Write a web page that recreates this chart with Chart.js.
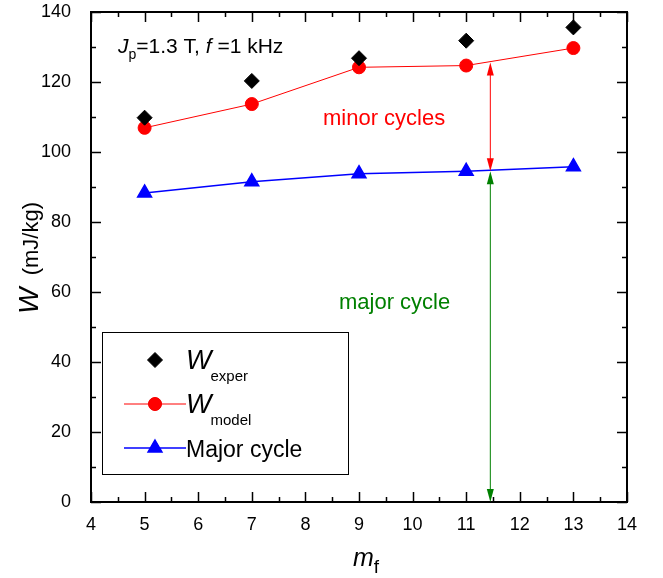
<!DOCTYPE html>
<html>
<head>
<meta charset="utf-8">
<script src="https://cdn.jsdelivr.net/npm/chart.js@4.4.0/dist/chart.umd.min.js"></script>
<style>
  html, body { margin: 0; padding: 0; background: #fff; }
  #wrap { width: 663px; height: 578px; }
</style>
</head>
<body>
<div id="wrap"><canvas id="chart" width="663" height="578"></canvas></div>
<script>
// data
const mf = [5, 7, 9, 11, 13];
const wExper = [109.8, 120.3, 126.8, 131.8, 135.6];
const wModel = [106.9, 113.7, 124.2, 124.7, 129.7];
const majorCycle = [88.3, 91.5, 93.8, 94.5, 95.8];

const xTicks = [4, 5, 6, 7, 8, 9, 10, 11, 12, 13, 14];
const yTicks = [0, 20, 40, 60, 80, 100, 120, 140];

// arrow annotations: x position, and the y spans
const arrowX = 11.45;
const minorSpan = [94.5, 125.6];
const majorSpan = [0, 94.5];

const FONT = "'Liberation Sans', Arial, Helvetica, sans-serif";

const toPoints = (ys) => mf.map((x, i) => ({ x: x, y: ys[i] }));

function arrowHead(ctx, x, y, dir, color) {
    // dir = -1 points up, 1 points down
    ctx.fillStyle = color;
    ctx.beginPath();
    ctx.moveTo(x, y);
    ctx.lineTo(x - 3.5, y - dir * 13);
    ctx.lineTo(x + 3.5, y - dir * 13);
    ctx.closePath();
    ctx.fill();
}

function drawArrow(ctx, x, yTop, yBot, color) {
    ctx.strokeStyle = color;
    ctx.lineWidth = 1;
    ctx.beginPath();
    ctx.moveTo(x, yTop + 6);
    ctx.lineTo(x, yBot - 6);
    ctx.stroke();
    arrowHead(ctx, x, yTop, -1, color);
    arrowHead(ctx, x, yBot, 1, color);
}

const framePlugin = {
    id: "frame",
    afterDraw(chart) {
        const ctx = chart.ctx;
        const a = chart.chartArea;
        const xs = chart.scales.x;
        const ys = chart.scales.y;
        ctx.save();

        // inward ticks on all four sides
        ctx.strokeStyle = "#000";
        ctx.lineWidth = 1.5;
        ctx.beginPath();
        for (let v = 4; v <= 14.001; v += 0.5) {
            const px = Math.round(xs.getPixelForValue(v)) + 0.5;
            const len = Number.isInteger(v) ? 10 : 5;
            ctx.moveTo(px, a.bottom); ctx.lineTo(px, a.bottom - len);
            ctx.moveTo(px, a.top); ctx.lineTo(px, a.top + len);
        }
        for (let v = 0; v <= 140; v += 10) {
            const py = Math.round(ys.getPixelForValue(v)) + 0.5;
            const len = v % 20 === 0 ? 10 : 5;
            ctx.moveTo(a.left, py); ctx.lineTo(a.left + len, py);
            ctx.moveTo(a.right, py); ctx.lineTo(a.right - len, py);
        }
        ctx.stroke();

        // frame
        ctx.lineWidth = 2;
        ctx.strokeRect(a.left, a.top, a.right - a.left, a.bottom - a.top);

        // arrows
        const ax = xs.getPixelForValue(arrowX);
        drawArrow(ctx, ax, ys.getPixelForValue(minorSpan[1]), ys.getPixelForValue(minorSpan[0]), "#ff0000");
        drawArrow(ctx, ax, ys.getPixelForValue(majorSpan[1]), ys.getPixelForValue(majorSpan[0]), "#008000");

        // text annotations
        ctx.textBaseline = "alphabetic";
        ctx.fillStyle = "#000";
        let tx = 118, ty = 53;
        ctx.font = "italic 21px " + FONT;
        ctx.fillText("J", tx, ty);
        tx += ctx.measureText("J").width;
        ctx.font = "14px " + FONT;
        ctx.fillText("p", tx, ty + 6);
        tx += ctx.measureText("p").width;
        ctx.font = "21px " + FONT;
        ctx.fillText("=1.3 T, ", tx, ty);
        tx += ctx.measureText("=1.3 T, ").width;
        ctx.font = "italic 21px " + FONT;
        ctx.fillText("f", tx, ty);
        tx += ctx.measureText("f ").width;
        ctx.font = "21px " + FONT;
        ctx.fillText("=1 kHz", tx, ty);

        ctx.font = "22px " + FONT;
        ctx.fillStyle = "#ff0000";
        ctx.fillText("minor cycles", 323, 125);
        ctx.fillStyle = "#008000";
        ctx.fillText("major cycle", 339, 309);

        // legend box
        ctx.fillStyle = "#fff";
        ctx.fillRect(102, 332, 246, 142);
        ctx.strokeStyle = "#000";
        ctx.lineWidth = 1;
        ctx.strokeRect(102.5, 332.5, 246, 142);

        const sets = chart.data.datasets;
        const rows = [
            { y: 360, sub: "exper", main: "W", ds: sets[0] },
            { y: 404, sub: "model", main: "W", ds: sets[1] },
            { y: 448, sub: null, main: "Major cycle", ds: sets[2] }
        ];
        rows.forEach(r => {
            if (r.ds.showLine !== false) {
                ctx.strokeStyle = r.ds.borderColor;
                ctx.lineWidth = r.ds.borderWidth;
                ctx.beginPath();
                ctx.moveTo(124, r.y); ctx.lineTo(186, r.y);
                ctx.stroke();
            }
            Chart.helpers.drawPoint(ctx, {
                pointStyle: r.ds.pointStyle,
                radius: r.ds.pointRadius,
                rotation: 0,
                borderWidth: 1
            }, 155, r.y);
            ctx.fillStyle = r.ds.pointBackgroundColor;
            ctx.fill();
            ctx.fillStyle = "#000";
            if (r.sub) {
                ctx.font = "italic 27px " + FONT;
                ctx.fillText(r.main, 186, r.y + 9);
                const w = ctx.measureText(r.main).width;
                ctx.font = "15px " + FONT;
                ctx.fillText(r.sub, 186 + w - 1, r.y + 21);
            } else {
                ctx.font = "23px " + FONT;
                ctx.fillText(r.main, 186, r.y + 9);
            }
        });

        // axis titles
        ctx.fillStyle = "#000";
        ctx.font = "italic 25px " + FONT;
        const mw = ctx.measureText("m").width;
        ctx.fillText("m", 353, 566);
        ctx.font = "19px " + FONT;
        ctx.fillText("f", 353 + mw, 573);

        ctx.translate(38, 258);
        ctx.rotate(-Math.PI / 2);
        ctx.font = "italic 28px " + FONT;
        const wW = ctx.measureText("W").width;
        ctx.font = "22px " + FONT;
        const restW = ctx.measureText("  (mJ/kg)").width;
        const start = -(wW + restW) / 2;
        ctx.font = "italic 28px " + FONT;
        ctx.fillText("W", start, 0);
        ctx.font = "22px " + FONT;
        ctx.fillText("  (mJ/kg)", start + wW, 0);

        ctx.restore();
    }
};

new Chart(document.getElementById("chart"), {
    type: "scatter",
    data: {
        datasets: [
            {
                label: "W exper",
                data: toPoints(wExper),
                showLine: false,
                pointStyle: "rectRot",
                pointRadius: 7.5,
                pointBackgroundColor: "#000",
                pointBorderColor: "#000",
                borderColor: "#000"
            },
            {
                label: "W model",
                data: toPoints(wModel),
                showLine: true,
                borderColor: "#ff0000",
                borderWidth: 1,
                pointStyle: "circle",
                pointRadius: 6.5,
                pointBackgroundColor: "#ff0000",
                pointBorderColor: "#ff0000"
            },
            {
                label: "Major cycle",
                data: toPoints(majorCycle),
                showLine: true,
                borderColor: "#0000ff",
                borderWidth: 1.5,
                pointStyle: "triangle",
                pointRadius: 8,
                pointBackgroundColor: "#0000ff",
                pointBorderColor: "#0000ff"
            }
        ]
    },
    options: {
        responsive: false,
        animation: false,
        layout: { padding: { top: 12, right: 36, left: 0, bottom: 0 } },
        plugins: { legend: { display: false }, tooltip: { enabled: false } },
        scales: {
            x: {
                type: "linear",
                min: 4,
                max: 14,
                afterBuildTicks: (s) => { s.ticks = xTicks.map(v => ({ value: v })); },
                afterFit: (s) => { s.height = 76; s.paddingLeft = 0; s.paddingRight = 0; },
                grid: { display: false },
                border: { display: false },
                ticks: { color: "#000", padding: 4, font: { family: FONT, size: 18 } }
            },
            y: {
                min: 0,
                max: 140,
                afterBuildTicks: (s) => { s.ticks = yTicks.map(v => ({ value: v })); },
                afterFit: (s) => { s.width = 91; s.paddingTop = 0; s.paddingBottom = 0; },
                grid: { display: false },
                border: { display: false },
                ticks: { color: "#000", padding: 12, font: { family: FONT, size: 18 } }
            }
        }
    },
    plugins: [framePlugin]
});
</script>
</body>
</html>
